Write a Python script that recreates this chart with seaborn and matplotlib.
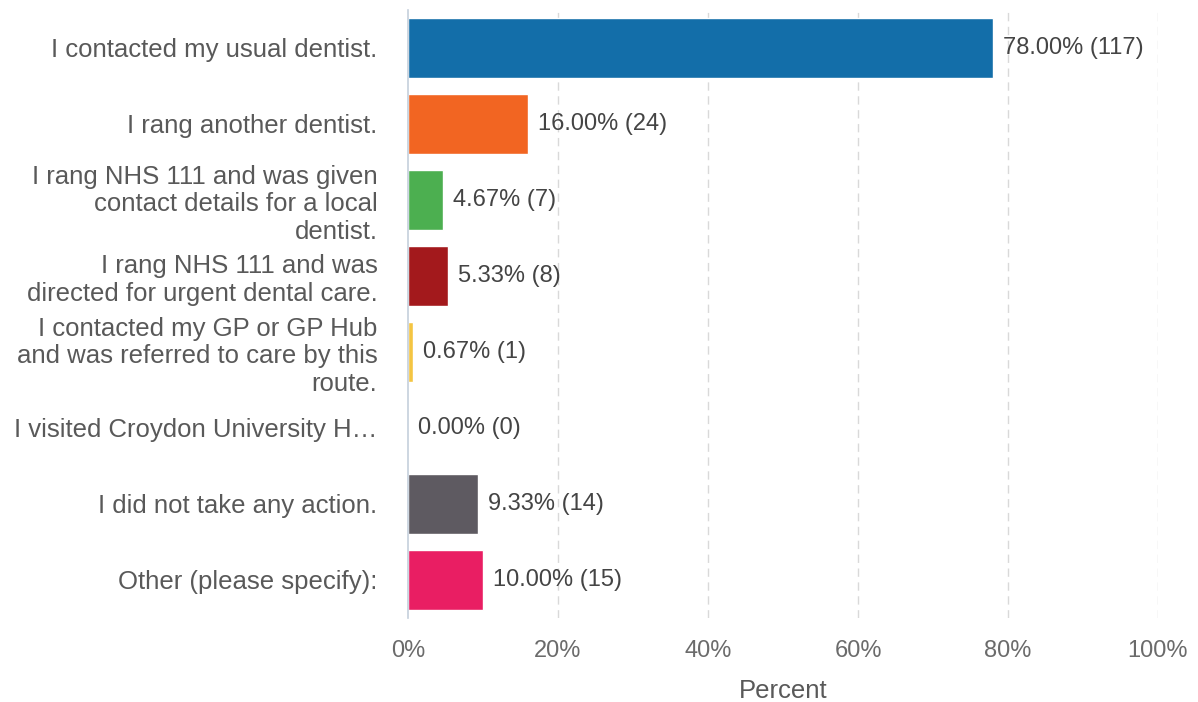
import matplotlib
matplotlib.use("Agg")
import matplotlib.pyplot as plt
import seaborn as sns
import pandas as pd

# Survey responses: what people did when they needed dental care
answers = [
    "I contacted my usual dentist.",
    "I rang another dentist.",
    "I rang NHS 111 and was given\ncontact details for a local\ndentist.",
    "I rang NHS 111 and was\ndirected for urgent dental care.",
    "I contacted my GP or GP Hub\nand was referred to care by this\nroute.",
    "I visited Croydon University H\u2026",
    "I did not take any action.",
    "Other (please specify):",
]
percents = [78.00, 16.00, 4.67, 5.33, 0.67, 0.00, 9.33, 10.00]
counts = [117, 24, 7, 8, 1, 0, 14, 15]
bar_colors = ["#136ea9", "#f26522", "#4caf50", "#a3191c", "#f4c542",
              "#9fb6cd", "#5e5a61", "#e91e63"]
x_ticks = [0, 20, 40, 60, 80, 100]

sns.set_theme(style="white")
plt.rcParams["font.family"] = ["Liberation Sans", "DejaVu Sans"]

df = pd.DataFrame({"answer": answers, "percent": percents})

fig = plt.figure(figsize=(11.98, 7.02), dpi=100)
ax = fig.add_axes([0.3406, 0.1197, 0.9666 - 0.3406, 0.9858 - 0.1197])

sns.barplot(data=df, y="answer", x="percent", hue="answer",
            palette=bar_colors, order=answers, hue_order=answers,
            orient="h", width=0.79, dodge=False, legend=False,
            saturation=1.0, ax=ax)

ax.set_xlim(0, 100)
ax.set_ylim(len(answers) - 0.5, -0.5)
ax.set_xticks(x_ticks)
ax.set_xticklabels([f"{t}%" for t in x_ticks])
ax.tick_params(axis="x", length=0, pad=16, labelsize=17, labelcolor="#6b6b6b")
ax.tick_params(axis="y", length=0, pad=22, labelsize=18.5, labelcolor="#595959")
for lab in ax.get_yticklabels():
    lab.set_linespacing(1.2)
ax.set_ylabel("")
ax.set_xlabel("Percent", fontsize=18.5, color="#595959")
ax.xaxis.label.set_va("baseline")
ax.xaxis.set_label_coords(0.5, -0.131)

# dashed vertical grid
for t in x_ticks[1:]:
    ax.axvline(t, color="#d9d9d9", linestyle=(0, (6, 4)), linewidth=1.0, zorder=0)

for side in ["top", "right", "bottom"]:
    ax.spines[side].set_visible(False)
ax.spines["left"].set_color("#c5cfdc")
ax.spines["left"].set_linewidth(1.2)

# value labels
for i, (p, c) in enumerate(zip(percents, counts)):
    ax.annotate(f"{p:.2f}% ({c})", xy=(p, i), xytext=(7.5, 0),
                textcoords="offset points", va="center", ha="left",
                fontsize=17, color="#444444")

fig.savefig("out.png", dpi=100)
